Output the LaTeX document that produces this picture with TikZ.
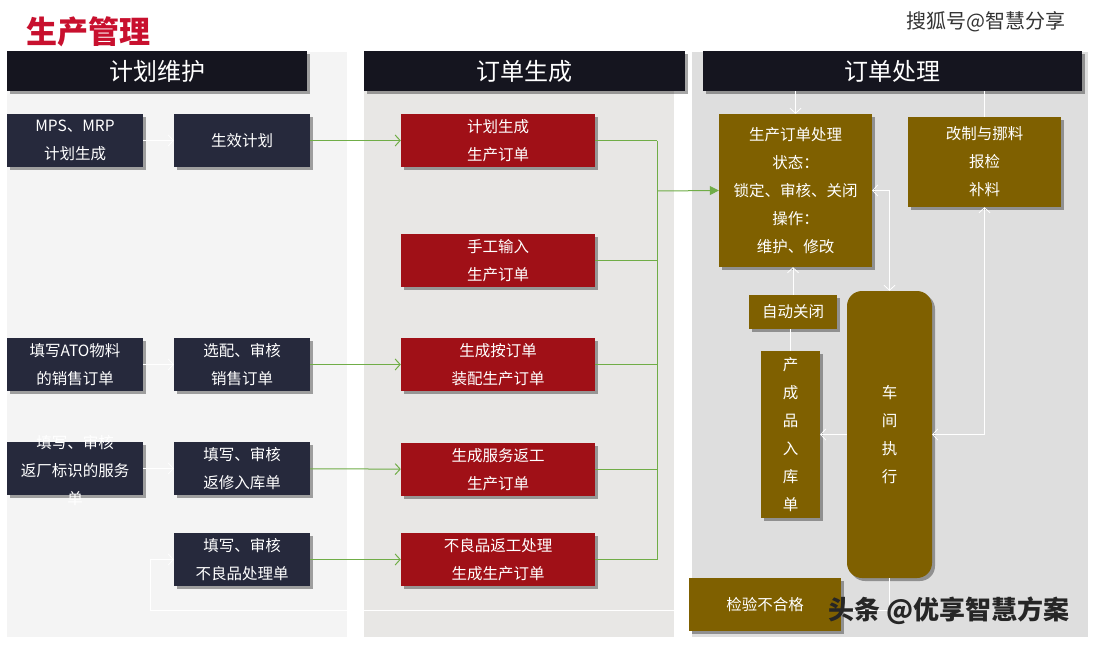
\documentclass[tikz,border=0pt]{standalone}
\usepackage{fontspec}
\setmainfont{Noto Sans CJK SC}
\usetikzlibrary{arrows.meta,shadows}

\definecolor{panelL}{RGB}{244,244,244}
\definecolor{panelM}{RGB}{232,231,229}
\definecolor{panelR}{RGB}{222,222,222}
\definecolor{hdrdark}{RGB}{21,21,31}
\definecolor{navy}{RGB}{38,41,60}
\definecolor{ordred}{RGB}{160,16,23}
\definecolor{olive}{RGB}{127,96,0}
\definecolor{flowgreen}{RGB}{112,173,71}
\definecolor{titlered}{RGB}{200,16,46}

\begin{document}
\begin{tikzpicture}[x=1pt,y=-1pt,
  shade/.style={drop shadow={shadow xshift=3pt,shadow yshift=-3pt,fill=black,opacity=0.35}},
  header/.style={fill=hdrdark,shade,text=white,minimum height=40pt,inner sep=0pt,font={\fontsize{24}{28}\selectfont}},
  block/.style={shade,text=white,align=center,inner sep=2pt,font={\fontsize{15.5}{28}\selectfont}},
  plan/.style={block,fill=navy,minimum width=136pt,minimum height=53pt},
  order/.style={block,fill=ordred,minimum width=194pt,minimum height=53pt},
  proc/.style={block,fill=olive},
  wline/.style={draw=white,line width=0.8pt},
  warrow/.style={wline,-{Straight Barb[length=5pt,width=11pt]}},
  wboth/.style={wline,{Straight Barb[length=5pt,width=11pt]}-{Straight Barb[length=5pt,width=11pt]}},
  gline/.style={draw=flowgreen,line width=1pt},
  garrow/.style={gline,-{Straight Barb[length=5pt,width=11pt]}},
  gfill/.style={gline,-{Triangle[length=9pt,width=9pt]}}]
\useasboundingbox (0,0) rectangle (1097,645);
\fill[white] (0,0) rectangle (1097,645);

% column panels
\fill[panelL] (7,52) rectangle (347,637);
\fill[panelM] (364,52) rectangle (674,637);
\fill[panelR] (692,52) rectangle (1088,637);

\node[font={\fontsize{31}{36}\selectfont\bfseries},text=titlered] (title) at (88,32) {生产管理};
\node[text=black!80,font={\fontsize{20}{24}\selectfont}] (mark1) at (986,22) {搜狐号@智慧分享};

\node[header,minimum width=300pt] (hdrL) at (157,71) {计划维护};
\node[header,minimum width=321pt] (hdrM) at (524.5,71) {订单生成};
\node[header,minimum width=379pt] (hdrR) at (892.5,71) {订单处理};

% plan maintenance
\node[plan] (a1) at (75,140.5) {MPS、MRP\\计划生成};
\node[plan] (a2) at (242,140.5) {生效计划};
\node[plan] (b1) at (75,364.5) {填写ATO物料\\的销售订单};
\node[plan] (b2) at (242,364.5) {选配、审核\\销售订单};
\node[plan,align=none] (c1) at (75,468.5) {\smash{\raisebox{-6pt}{\parbox[c]{128pt}{\centering\fontsize{15.5}{28}\selectfont 填写、审核\\返厂标识的服务\\单}}}};
\node[plan] (c2) at (242,468.5) {填写、审核\\返修入库单};
\node[plan] (d2) at (242,559.5) {填写、审核\\不良品处理单};

% order generation
\node[order] (m1) at (498,140.5) {计划生成\\生产订单};
\node[order] (m2) at (498,260.5) {手工输入\\生产订单};
\node[order] (m3) at (498,364.5) {生成按订单\\装配生产订单};
\node[order] (m4) at (498,469.5) {生成服务返工\\生产订单};
\node[order] (m5) at (498,559.5) {不良品返工处理\\生成生产订单};

% order processing
\node[proc,minimum width=153pt,minimum height=153pt] (p1) at (795.5,190.5) {生产订单处理\\状态：\\锁定、审核、关闭\\操作：\\维护、修改};
\node[proc,minimum width=153pt,minimum height=90pt] (p2) at (984.5,162) {改制与挪料\\报检\\补料};
\node[proc,minimum width=88pt,minimum height=34pt] (zd) at (793,312) {自动关闭};
\node[proc,minimum width=59pt,minimum height=167pt] (cp) at (790.5,434.5) {产\\成\\品\\入\\库\\单};
\node[proc,rounded corners=15pt,minimum width=85pt,minimum height=287pt] (cj) at (889.5,434.5) {车\\间\\执\\行};
\node[proc,minimum width=152pt,minimum height=53pt] (jy) at (765,604.5) {检验不合格};

\coordinate (bus) at (657,191);
\coordinate (loop) at (150,610);

\draw[warrow] (a1) -- (a2);
\draw[warrow] (b1) -- (b2);
\draw[warrow] (c1) -- (c2);
\draw[garrow] (a2) -- (m1);
\draw[garrow] (b2) -- (m3);
\draw[garrow] (c2) -- (m4);
\draw[garrow] (d2) -- (m5);
\draw[gline] (m1.east) -- (m1.east -| bus);
\draw[gline] (m2.east) -- (m2.east -| bus);
\draw[gline] (m3.east) -- (m3.east -| bus);
\draw[gline] (m4.east) -- (m4.east -| bus);
\draw[gline] (m5.east) -- (m5.east -| bus);
\draw[gline] (m1.east -| bus) -- (m5.east -| bus);
\draw[gfill] (bus) -- (p1.west);

\draw[warrow] (hdrR.south -| p1.north) -- (p1.north);
\draw[wline] (hdrR.south -| p2.north) -- (p2.north);
\draw[warrow] (zd.north) -- (zd.north |- p1.south);
\draw[wline] (zd.south -| cp.north) -- (cp.north);
\draw[wboth] (p1.east) -| (cj.north);
\draw[wboth] (cj.east) -| (p2.south);
\draw[warrow] (cj.west) -- (cp.east);
\draw[wline] (cj.south) |- (jy.east |- loop);
\draw[warrow] (jy.west |- loop) -- (loop) |- (d2.west);

\node[text=black!85,font={\fontsize{26}{30}\selectfont\bfseries}] (mark2) at (949,611) {头条 @优享智慧方案};
\end{tikzpicture}
\end{document}
